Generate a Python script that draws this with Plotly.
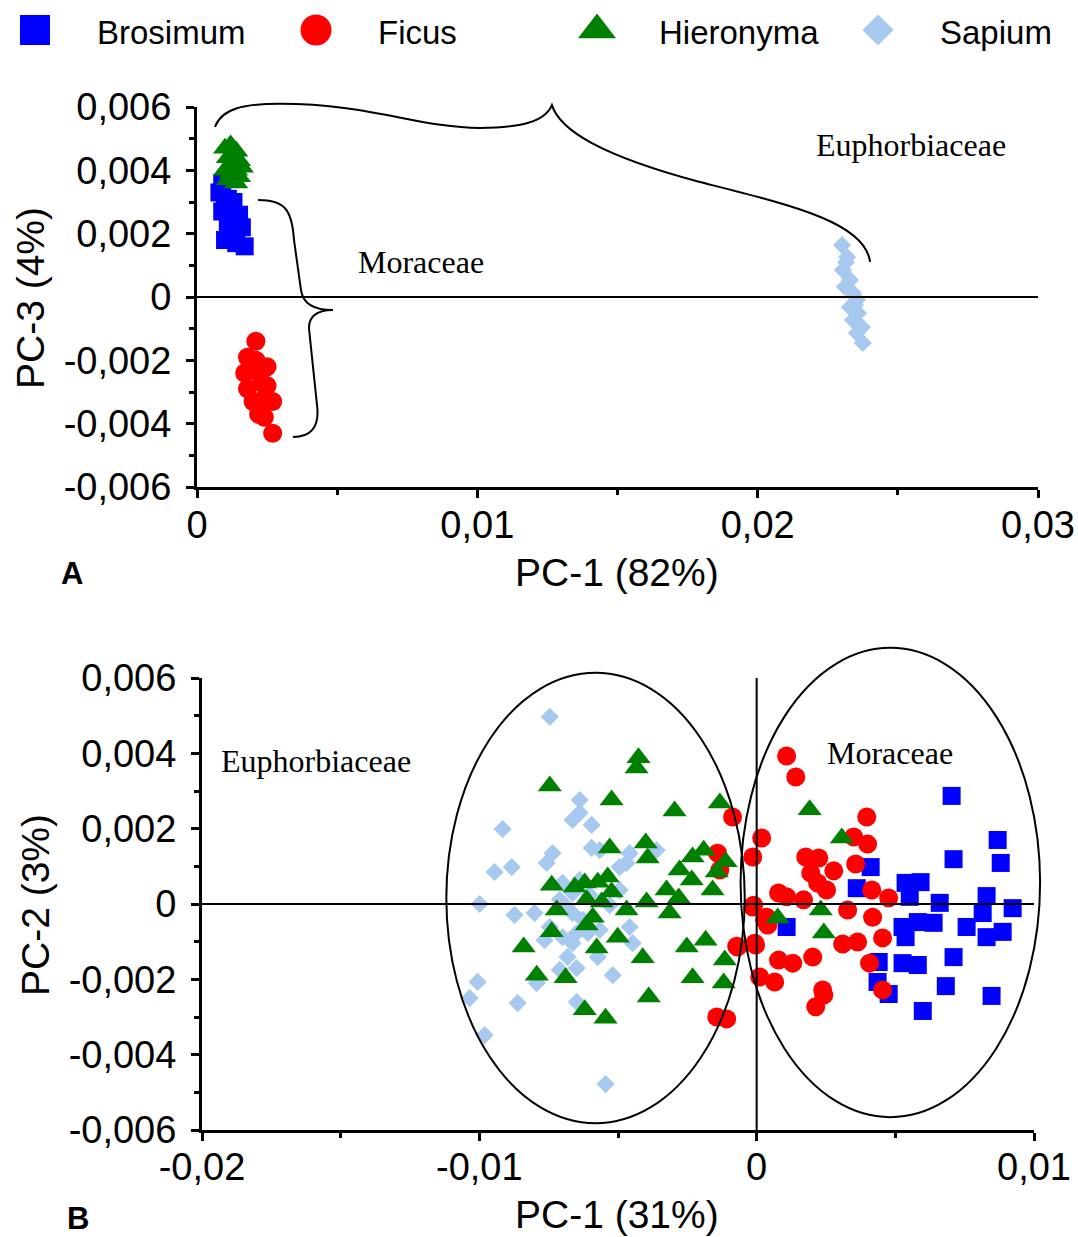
import plotly.graph_objects as go

# ---------------- data ----------------
species = ["Brosimum", "Ficus", "Hieronyma", "Sapium"]
colors = {"Brosimum": "#0000FF", "Ficus": "#FF0000", "Hieronyma": "#008000", "Sapium": "#A7C9EF"}
symbols = {"Brosimum": "square", "Ficus": "circle", "Hieronyma": "triangle-up", "Sapium": "diamond"}

# Panel A : PC-1 (82%) vs PC-3 (4%)
a_brosimum_x = [0.0009, 0.0008, 0.0011, 0.0010, 0.0013, 0.0012, 0.0015, 0.0014, 0.0011, 0.0009, 0.0013, 0.0016, 0.0010, 0.0012, 0.0017, 0.0014]
a_brosimum_y = [0.0036, 0.0033, 0.0031, 0.0029, 0.0030, 0.0027, 0.0026, 0.0024, 0.0023, 0.0027, 0.0021, 0.0022, 0.0018, 0.0019, 0.0016, 0.0017]
a_ficus_x = [0.0021, 0.0018, 0.0017, 0.0025, 0.0018, 0.0025, 0.0020, 0.0027, 0.0022, 0.0024, 0.0027, 0.0022, 0.0023, 0.0021, 0.0024]
a_ficus_y = [-0.0014, -0.0019, -0.0024, -0.0022, -0.0029, -0.0028, -0.0033, -0.0033, -0.0037, -0.0038, -0.0043, -0.0024, -0.0027, -0.0020, -0.0032]
a_hieronyma_x = [0.0010, 0.0012, 0.0014, 0.0011, 0.0013, 0.0015, 0.0016, 0.0012, 0.0014, 0.0010, 0.0013, 0.0015, 0.0011, 0.0014, 0.0012]
a_hieronyma_y = [0.0047, 0.0048, 0.0046, 0.0044, 0.0045, 0.0043, 0.0041, 0.0042, 0.0040, 0.0040, 0.0038, 0.0038, 0.0037, 0.0036, 0.0039]
a_sapium_x = [0.02301, 0.02319, 0.02304, 0.02329, 0.02311, 0.02340, 0.02354, 0.02329, 0.02358, 0.02340, 0.02372, 0.02354, 0.02375, 0.02315, 0.02347]
a_sapium_y = [0.00164, 0.00126, 0.00085, 0.00054, 0.00032, 0.00013, -0.00009, -0.00032, -0.00051, -0.00073, -0.00095, -0.00114, -0.00145, 0.00110, -0.00025]

# Panel B : PC-1 (31%) vs PC-2 (3%)
b_sapium_x = [-0.00746, -0.00638, -0.00664, -0.00638, -0.00595, -0.00916, -0.00736, -0.00757, -0.00595, -0.00566,
              -0.00458, -0.00469, -0.00361, -0.00494, -0.00945, -0.00883, -0.00700, -0.00638, -0.00664, -0.00999,
              -0.00873, -0.00801, -0.00746, -0.00685, -0.00664, -0.00627, -0.00649, -0.00700, -0.00664, -0.00609,
              -0.00458, -0.00447, -0.00682, -0.00649, -0.00710, -0.00573, -0.00519, -0.01006, -0.00793, -0.01035,
              -0.00862, -0.00649, -0.00981, -0.00545, -0.00710, -0.00602, -0.00530, -0.00566, -0.00765, -0.00494]
b_sapium_y = [0.00497, 0.00276, 0.00223, 0.00242, 0.00210, 0.00199, 0.00135, 0.00109, 0.00149, 0.00143,
              0.00135, 0.00109, 0.00143, 0.00098, 0.00085, 0.00098, 0.00056, 0.00064, 0.00029, 0.00000,
              -0.00029, -0.00024, -0.00061, -0.00008, -0.00024, -0.00042, -0.00077, -0.00088, -0.00104, -0.00077,
              -0.00061, -0.00104, -0.00141, -0.00170, -0.00175, -0.00141, -0.00189, -0.00207, -0.00210, -0.00250,
              -0.00263, -0.00260, -0.00348, -0.00478, 0.00011, 0.00024, -0.00003, -0.00069, -0.00096, 0.00037]
b_brosimum_x = [0.00703, 0.00869, 0.00710, 0.00880, 0.00411, 0.00361, 0.00537, 0.00591, 0.00552, 0.00660,
                0.00829, 0.00923, 0.00108, 0.00526, 0.00581, 0.00638, 0.00757, 0.00815, 0.00829, 0.00887,
                0.00537, 0.00710, 0.00526, 0.00581, 0.00440, 0.00436, 0.00476, 0.00682, 0.00847, 0.00599]
b_brosimum_y = [0.00287, 0.00170, 0.00119, 0.00109, 0.00098, 0.00042, 0.00056, 0.00058, 0.00019, 0.00003,
                0.00021, -0.00011, -0.00061, -0.00061, -0.00048, -0.00050, -0.00061, -0.00024, -0.00088, -0.00074,
                -0.00088, -0.00141, -0.00157, -0.00162, -0.00154, -0.00207, -0.00239, -0.00218, -0.00244, -0.00284]
b_ficus_x = [-0.00087, -0.00141, -0.00133, -0.00069, -0.00144, -0.00108, 0.00018, -0.00014, -0.00014, -0.00004,
             0.00011, 0.00029, 0.00108, 0.00141, 0.00397, 0.00350, 0.00400, 0.00177, 0.00224, 0.00195,
             0.00278, 0.00357, 0.00220, 0.00252, 0.00079, 0.00108, 0.00169, 0.00415, 0.00476, -0.00011,
             0.00036, 0.00040, 0.00328, 0.00418, 0.00454, -0.00007, -0.00072, 0.00310, 0.00364, 0.00079,
             0.00130, 0.00202, 0.00407, 0.00065, 0.00238, 0.00242, 0.00213, 0.00454]
b_ficus_y = [0.00231, 0.00135, 0.00090, -0.00114, -0.00300, -0.00305, 0.00175, 0.00125, -0.00008, -0.00109,
             -0.00194, -0.00042, 0.00393, 0.00337, 0.00231, 0.00178, 0.00159, 0.00125, 0.00122, 0.00082,
             0.00088, 0.00106, 0.00056, 0.00037, 0.00029, 0.00019, 0.00011, 0.00037, 0.00016, -0.00003,
             -0.00035, -0.00056, -0.00016, -0.00035, -0.00090, -0.00104, -0.00112, -0.00106, -0.00101, -0.00149,
             -0.00157, -0.00141, -0.00157, -0.00207, -0.00228, -0.00242, -0.00273, -0.00228]
b_hieronyma_x = [-0.00426, -0.00433, -0.00746, -0.00523, -0.00296, -0.00133, 0.00191, 0.00307, -0.00530, -0.00400,
                 -0.00393, -0.00231, -0.00191, -0.00112, -0.00278, -0.00234, -0.00144, -0.00739, -0.00656, -0.00620,
                 -0.00573, -0.00537, -0.00523, -0.00325, -0.00281, -0.00159, -0.00613, -0.00559, -0.00397, -0.00721,
                 -0.00469, -0.00314, -0.00591, -0.00613, -0.00739, -0.00501, -0.00840, -0.00577, -0.00252, -0.00184,
                 -0.00411, -0.00115, -0.00793, -0.00689, -0.00231, -0.00119, -0.00389, -0.00620, -0.00545, 0.00076,
                 0.00231, 0.00242]
b_hieronyma_y = [0.00388, 0.00361, 0.00313, 0.00276, 0.00247, 0.00268, 0.00250, 0.00175, 0.00149, 0.00162,
                 0.00122, 0.00125, 0.00143, 0.00112, 0.00090, 0.00064, 0.00085, 0.00050, 0.00045, 0.00056,
                 0.00058, 0.00072, 0.00032, 0.00037, 0.00016, 0.00037, 0.00011, 0.00005, 0.00005, -0.00016,
                 -0.00016, -0.00024, -0.00035, -0.00056, -0.00074, -0.00088, -0.00114, -0.00117, -0.00114, -0.00096,
                 -0.00143, -0.00149, -0.00189, -0.00196, -0.00196, -0.00210, -0.00247, -0.00281, -0.00303, -0.00037,
                 -0.00016, -0.00077]

# tick values / labels
a_x_ticks = [0, 0.01, 0.02, 0.03]
a_x_labels = ["0", "0,01", "0,02", "0,03"]
b_x_ticks = [-0.02, -0.01, 0, 0.01]
b_x_labels = ["-0,02", "-0,01", "0", "0,01"]
y_ticks = [-0.006, -0.004, -0.002, 0, 0.002, 0.004, 0.006]
y_labels = ["-0,006", "-0,004", "-0,002", "0", "0,002", "0,004", "0,006"]

# ---------------- layout geometry ----------------
W, H = 1078, 1237
A = dict(xd=[197 / W, 1038 / W], yd=[1 - 487 / H, 1 - 107 / H], xr=[0, 0.03], yr=[-0.006, 0.006])
B = dict(xd=[202 / W, 1034 / W], yd=[1 - 1130 / H, 1 - 678 / H], xr=[-0.02, 0.01], yr=[-0.006, 0.006])


def to_paper(sub, x, y):
    px = sub["xd"][0] + (x - sub["xr"][0]) / (sub["xr"][1] - sub["xr"][0]) * (sub["xd"][1] - sub["xd"][0])
    py = sub["yd"][0] + (y - sub["yr"][0]) / (sub["yr"][1] - sub["yr"][0]) * (sub["yd"][1] - sub["yd"][0])
    return px, py


def path_paper(sub, cmds):
    out = []
    for c in cmds:
        if isinstance(c, str):
            out.append(c)
        else:
            px, py = to_paper(sub, c[0], c[1])
            out.append(f"{px:.5f},{py:.5f}")
    return " ".join(out)


SANS = "Liberation Sans, Arial, sans-serif"
SERIF = "Liberation Serif, Times New Roman, serif"

fig = go.Figure()

sizes = {"Brosimum": 18, "Ficus": 19, "Hieronyma": 21, "Sapium": 14}


def add(xs, ys, name, xa, ya):
    fig.add_trace(go.Scatter(
        x=xs, y=ys, mode="markers", name=name, showlegend=False,
        xaxis=xa, yaxis=ya,
        marker=dict(symbol=symbols[name], color=colors[name], size=sizes[name], line=dict(width=0)),
        cliponaxis=False,
    ))


add(a_sapium_x, a_sapium_y, "Sapium", "x", "y")
add(a_brosimum_x, a_brosimum_y, "Brosimum", "x", "y")
add(a_ficus_x, a_ficus_y, "Ficus", "x", "y")
add(a_hieronyma_x, a_hieronyma_y, "Hieronyma", "x", "y")

add(b_sapium_x, b_sapium_y, "Sapium", "x2", "y2")
add(b_brosimum_x, b_brosimum_y, "Brosimum", "x2", "y2")
add(b_ficus_x, b_ficus_y, "Ficus", "x2", "y2")
add(b_hieronyma_x, b_hieronyma_y, "Hieronyma", "x2", "y2")

# custom legend row (species index along a hidden axis)
leg_sizes = {"Brosimum": 30, "Ficus": 31, "Hieronyma": 33, "Sapium": 24}
for i, sp in enumerate(species):
    fig.add_trace(go.Scatter(
        x=[i], y=[0], mode="markers", showlegend=False, xaxis="x3", yaxis="y3",
        marker=dict(symbol=symbols[sp], color=colors[sp], size=leg_sizes[sp], line=dict(width=0)),
        cliponaxis=False, hoverinfo="skip",
    ))

axis_common = dict(
    showline=True, linecolor="black", linewidth=3, ticks="outside", ticklen=8, tickwidth=3,
    tickcolor="black", showgrid=False, zeroline=False, automargin=False, layer="above traces",
    tickfont=dict(family=SANS, size=38, color="black"), tickmode="array", fixedrange=True,
)
minor_x = dict(ticks="outside", ticklen=5, tickwidth=3, tickcolor="black", tickmode="linear", tick0=0, dtick=0.005, showgrid=False)
minor_y = dict(ticks="outside", ticklen=5, tickwidth=3, tickcolor="black", tickmode="linear", tick0=0, dtick=0.001, showgrid=False)

fig.update_layout(
    width=W, height=H, autosize=False,
    margin=dict(l=0, r=0, t=0, b=0),
    paper_bgcolor="white", plot_bgcolor="rgba(0,0,0,0)",
    showlegend=False,
    xaxis=dict(axis_common, domain=A["xd"], range=A["xr"], anchor="y", tickvals=a_x_ticks, ticktext=a_x_labels,
               minor=minor_x, ticklabelstandoff=-6),
    yaxis=dict(axis_common, domain=A["yd"], range=A["yr"], anchor="x", tickvals=y_ticks, ticktext=y_labels,
               minor=minor_y, ticklabelstandoff=7),
    xaxis2=dict(axis_common, domain=B["xd"], range=B["xr"], anchor="y2", tickvals=b_x_ticks, ticktext=b_x_labels,
                minor=minor_x, ticklabelstandoff=-7),
    yaxis2=dict(axis_common, domain=B["yd"], range=B["yr"], anchor="x2", tickvals=y_ticks, ticktext=y_labels,
                minor=minor_y, ticklabelstandoff=7),
    xaxis3=dict(domain=[0, 1], range=[-35 / 281, (W - 35) / 281], visible=False, fixedrange=True, anchor="y3"),
    yaxis3=dict(domain=[1 - 60 / H, 1], range=[-1, 1], visible=False, fixedrange=True, anchor="x3"),
)

shapes = []
# zero lines
shapes.append(dict(type="line", xref="x domain", yref="y", x0=0, x1=1, y0=0, y1=0, line=dict(color="black", width=2), layer="above"))
shapes.append(dict(type="line", xref="x2 domain", yref="y2", x0=0, x1=1, y0=0, y1=0, line=dict(color="black", width=2), layer="above"))
shapes.append(dict(type="line", xref="x2", yref="y2 domain", x0=0, x1=0, y0=0, y1=1, line=dict(color="black", width=2), layer="above"))

# braces in panel A (data coordinates converted to paper)
brace_euph = ["M", (0.00064, 0.00537),
              "C", (0.00089, 0.00597), (0.00171, 0.00610), (0.00296, 0.00610),
              "C", (0.00617, 0.00610), (0.00795, 0.00534), (0.01009, 0.00534),
              "C", (0.01152, 0.00534), (0.01241, 0.00553), (0.01266, 0.00606),
              "C", (0.01295, 0.00527), (0.01437, 0.00448), (0.01794, 0.00363),
              "C", (0.02115, 0.00291), (0.02383, 0.00237), (0.02401, 0.00111)]
brace_mor = ["M", (0.00218, 0.00306),
             "C", (0.00314, 0.00306), (0.00339, 0.00275), (0.00346, 0.00180),
             "L", (0.00371, 0.00022),
             "C", (0.00378, -0.00025), (0.00421, -0.00041), (0.00485, -0.00041),
             "C", (0.00421, -0.00041), (0.00396, -0.00066), (0.00400, -0.00104),
             "L", (0.00428, -0.00341),
             "C", (0.00439, -0.00414), (0.00403, -0.00442), (0.00342, -0.00442)]
for br in (brace_euph, brace_mor):
    shapes.append(dict(type="path", xref="paper", yref="paper", path=path_paper(A, br),
                       line=dict(color="black", width=2), layer="above"))

# ellipses in panel B
for (x0, x1, y0, y1) in [(-0.01119, -0.00043, -0.00582, 0.00614), (-0.00058, 0.01022, -0.00566, 0.00680)]:
    p0 = to_paper(B, x0, y0)
    p1 = to_paper(B, x1, y1)
    shapes.append(dict(type="circle", xref="paper", yref="paper", x0=p0[0], y0=p0[1], x1=p1[0], y1=p1[1],
                       line=dict(color="black", width=2), layer="above"))

fig.update_layout(shapes=shapes)

ann = []
# legend labels
for i, sp in enumerate(species):
    ann.append(dict(x=i, y=0, xref="x3", yref="y3", text=sp, showarrow=False, xanchor="left", yanchor="middle",
                    xshift=60, yshift=-2, font=dict(family=SANS, size=33, color="black")))
# axis titles
TITLE = dict(family=SANS, size=39, color="black")
ann.append(dict(x=617 / W, y=1 - 572 / H, xref="paper", yref="paper", text="PC-1 (82%)", showarrow=False,
                xanchor="center", yanchor="middle", font=TITLE))
ann.append(dict(x=617 / W, y=1 - 1214 / H, xref="paper", yref="paper", text="PC-1 (31%)", showarrow=False,
                xanchor="center", yanchor="middle", font=TITLE))
ann.append(dict(x=31 / W, y=1 - 298 / H, xref="paper", yref="paper", text="PC-3 (4%)", showarrow=False, textangle=-90,
                xanchor="center", yanchor="middle", font=TITLE))
ann.append(dict(x=35 / W, y=1 - 905 / H, xref="paper", yref="paper", text="PC-2 (3%)", showarrow=False, textangle=-90,
                xanchor="center", yanchor="middle", font=TITLE))
# panel letters
ann.append(dict(x=72 / W, y=1 - 573 / H, xref="paper", yref="paper", text="<b>A</b>", showarrow=False,
                xanchor="center", yanchor="middle", font=dict(family=SANS, size=31, color="black")))
ann.append(dict(x=78 / W, y=1 - 1218 / H, xref="paper", yref="paper", text="<b>B</b>", showarrow=False,
                xanchor="center", yanchor="middle", font=dict(family=SANS, size=31, color="black")))
# family labels
ann.append(dict(x=0.02547, y=0.0048, xref="x", yref="y", text="Euphorbiaceae", showarrow=False,
                xanchor="center", yanchor="middle", font=dict(family=SERIF, size=32, color="black")))
ann.append(dict(x=0.0080, y=0.0011, xref="x", yref="y", text="Moraceae", showarrow=False,
                xanchor="center", yanchor="middle", font=dict(family=SERIF, size=32, color="black")))
ann.append(dict(x=-0.0159, y=0.0038, xref="x2", yref="y2", text="Euphorbiaceae", showarrow=False,
                xanchor="center", yanchor="middle", font=dict(family=SERIF, size=32, color="black")))
ann.append(dict(x=0.0048, y=0.0040, xref="x2", yref="y2", text="Moraceae", showarrow=False,
                xanchor="center", yanchor="middle", font=dict(family=SERIF, size=32, color="black")))
fig.update_layout(annotations=ann)

fig.write_html("out.html", config={"displayModeBar": False})

# remove the default page margin so the figure fills the window exactly
with open("out.html", "r", encoding="utf-8") as fh:
    html = fh.read()
html = html.replace("<head>", "<head><style>html,body{margin:0;padding:0;overflow:hidden;}</style>", 1)
with open("out.html", "w", encoding="utf-8") as fh:
    fh.write(html)
